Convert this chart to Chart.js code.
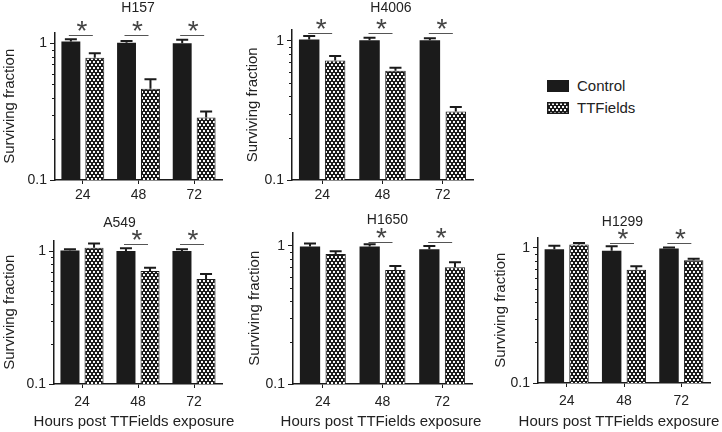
<!DOCTYPE html>
<html>
<head>
<meta charset="utf-8">
<script src="https://cdn.jsdelivr.net/npm/chart.js@4"></script>
<style>
  body { margin: 0; background: #fff; }
  #wrap { position: relative; width: 722px; height: 432px; overflow: hidden; font-family: "Liberation Sans", Arial, sans-serif; color: #222; }
  canvas.panel { position: absolute; }
  .leg { position: absolute; left: 547px; display: flex; align-items: center; font-size: 15px; }
  .leg canvas { margin-right: 8px; }
</style>
</head>
<body>
<div id="wrap">
  <div class="leg" style="top:77px"><canvas id="sw0" width="22" height="12"></canvas><span>Control</span></div>
  <div class="leg" style="top:99px"><canvas id="sw1" width="22" height="12"></canvas><span>TTFields</span></div>
</div>
<script>
const categories = ['24', '48', '72'];
const cellLines = ['H157', 'H4006', 'A549', 'H1650', 'H1299'];
const seriesNames = ['Control', 'TTFields'];
const controlMeans = [[1.03, 1.01, 1.00], [1.02, 1.01, 1.01], [1.01, 1.00, 1.00], [0.99, 0.99, 0.946], [0.98, 0.955, 0.99]];
const controlErrors = [[0.04, 0.03, 0.06], [0.06, 0.04, 0.03], [0.02, 0.05, 0.03], [0.05, 0.04, 0.054], [0.06, 0.075, 0.02]];
const ttfMeans = [[0.785, 0.466, 0.287], [0.72, 0.61, 0.31], [1.06, 0.708, 0.617], [0.875, 0.671, 0.701], [1.06, 0.691, 0.81]];
const ttfErrors = [[0.06, 0.08, 0.03], [0.056, 0.03, 0.024], [0.08, 0.04, 0.055], [0.04, 0.046, 0.06], [0.03, 0.04, 0.024]];
const significant = [[1, 1, 1], [1, 1, 1], [0, 1, 1], [0, 1, 1], [0, 1, 1]];
const yTickValues = [0.1, 0.2, 0.3, 0.4, 0.5, 0.6, 0.7, 0.8, 0.9, 1];
const yTickLabels = ['0.1', '1'];

// where each little chart sits (area = [left, right, top, bottom] inside its canvas)
const boxes = [
  { left: 0,   top: 0,   w: 240, h: 210, area: [55, 222, 32.5, 180], yMax: 1.2,  yPad: 1,    tickPad: 3, titleX: 138,   titleY: 8.5, sigY: 1.16,  xTitle: null },
  { left: 240, top: 0,   w: 240, h: 210, area: [52, 233, 29.7, 180], yMax: 1.2,  yPad: 3.5,  tickPad: 3, titleX: 151,   titleY: 8.5, sigY: 1.135, xTitle: null },
  { left: 0,   top: 210, w: 240, h: 222, area: [54, 222, 30.5, 174], yMax: 1.2,  yPad: 1,    tickPad: 6, titleX: 119.5, titleY: 13,  sigY: 1.13,  xTitle: 134 },
  { left: 240, top: 210, w: 250, h: 222, area: [53, 232, 22.6, 174], yMax: 1.25, yPad: 6,    tickPad: 6, titleX: 147.5, titleY: 10.5, sigY: 1.075, xTitle: 141 },
  { left: 480, top: 210, w: 242, h: 222, area: [58, 230, 27.3, 173], yMax: 1.2,  yPad: 11.5, tickPad: 6, titleX: 142.5, titleY: 12,  sigY: 1.08,  xTitle: 139 }
];

const FONT = '"Liberation Sans", Arial, sans-serif';
const INK = '#1b1b1b';
Chart.defaults.font.family = FONT;
Chart.defaults.color = '#222';

function dotPattern() {
  const t = document.createElement('canvas');
  t.width = 4; t.height = 6;
  const c = t.getContext('2d');
  c.fillStyle = INK; c.fillRect(0, 0, 4, 6);
  c.fillStyle = '#fafafa';
  c.fillRect(1, 1, 2, 2);
  c.fillRect(3, 4, 1, 2);
  c.fillRect(0, 4, 1, 2);
  return document.createElement('canvas').getContext('2d').createPattern(t, 'repeat');
}
const pattern = dotPattern();

// legend swatches
(function () {
  const a = document.getElementById('sw0').getContext('2d');
  a.fillStyle = INK; a.fillRect(0, 0, 22, 12);
  const b = document.getElementById('sw1').getContext('2d');
  b.fillStyle = pattern; b.fillRect(0, 0, 22, 12);
  b.strokeStyle = INK; b.lineWidth = 1.5; b.strokeRect(0.75, 0.75, 20.5, 10.5);
})();

const panelDecor = {
  id: 'panelDecor',
  afterDatasetsDraw(chart, args, opts) {
    const k = opts.index, b = boxes[k];
    const { ctx, chartArea } = chart;
    const y = chart.scales.y;
    ctx.save();

    // minor ticks on the log axis
    ctx.strokeStyle = INK; ctx.lineWidth = 1;
    yTickValues.forEach(v => {
      if (yTickLabels.includes(String(v))) return;
      const py = Math.round(y.getPixelForValue(v)) + 0.5;
      ctx.beginPath(); ctx.moveTo(chartArea.left - 3, py); ctx.lineTo(chartArea.left, py); ctx.stroke();
    });

    // error bars (upper half only)
    [[controlMeans, controlErrors], [ttfMeans, ttfErrors]].forEach(([means, errs], d) => {
      chart.getDatasetMeta(d).data.forEach((bar, i) => {
        const top = y.getPixelForValue(means[k][i] + errs[k][i]);
        const base = y.getPixelForValue(means[k][i]);
        ctx.strokeStyle = INK; ctx.lineWidth = 2;
        ctx.beginPath();
        ctx.moveTo(bar.x, base); ctx.lineTo(bar.x, top);
        ctx.moveTo(bar.x - 6, top); ctx.lineTo(bar.x + 6, top);
        ctx.stroke();
      });
    });

    // significance marks
    const sy = Math.round(y.getPixelForValue(b.sigY)) + 0.5;
    const xs = chart.scales.x;
    categories.forEach((c, i) => {
      if (!significant[k][i]) return;
      const cx = xs.getPixelForValue(i);
      ctx.strokeStyle = '#555'; ctx.lineWidth = 1;
      ctx.beginPath(); ctx.moveTo(cx - 14, sy); ctx.lineTo(cx + 10, sy); ctx.stroke();
      ctx.fillStyle = '#444';
      ctx.font = '28px ' + FONT;
      ctx.textAlign = 'center'; ctx.textBaseline = 'alphabetic';
      ctx.fillText('*', cx - 1, sy + 4);
    });

    // panel title and x title
    ctx.fillStyle = '#222';
    ctx.textAlign = 'center'; ctx.textBaseline = 'middle';
    ctx.font = '14px ' + FONT;
    ctx.fillText(cellLines[k], b.titleX, b.titleY);
    if (b.xTitle !== null) {
      ctx.font = '15px ' + FONT;
      ctx.fillText('Hours post TTFields exposure', b.xTitle, b.h - 10);
    }
    ctx.restore();
  }
};

boxes.forEach((b, k) => {
  const cv = document.createElement('canvas');
  cv.className = 'panel';
  cv.width = b.w; cv.height = b.h;
  cv.style.left = b.left + 'px'; cv.style.top = b.top + 'px';
  document.getElementById('wrap').appendChild(cv);

  new Chart(cv, {
    type: 'bar',
    plugins: [panelDecor],
    data: {
      labels: categories,
      datasets: [
        { label: seriesNames[0], data: controlMeans[k], backgroundColor: INK, borderWidth: 0 },
        { label: seriesNames[1], data: ttfMeans[k], backgroundColor: pattern, borderColor: INK, borderWidth: 1 }
      ]
    },
    options: {
      responsive: false,
      animation: false,
      events: [],
      layout: { padding: { left: 0, top: b.area[2], right: b.w - b.area[1], bottom: 0 } },
      datasets: { bar: { categoryPercentage: 0.86, barPercentage: 0.79 } },
      plugins: {
        legend: { display: false },
        tooltip: { enabled: false },
        panelDecor: { index: k }
      },
      scales: {
        x: {
          afterFit: s => { s.height = b.h - b.area[3]; },
          border: { color: INK, width: 1.5 },
          grid: { drawOnChartArea: false, offset: false, tickLength: 4, tickColor: INK },
          ticks: { font: { size: 14 }, color: '#222', padding: b.tickPad, maxRotation: 0 }
        },
        y: {
          type: 'logarithmic',
          min: 0.1,
          max: b.yMax,
          bounds: 'data',
          afterBuildTicks: s => { s.ticks = yTickValues.map(v => ({ value: v })); },
          afterFit: s => { s.width = b.area[0]; },
          border: { color: INK, width: 1.5 },
          grid: {
            drawOnChartArea: false,
            tickLength: 5,
            tickColor: c => (c.tick && yTickLabels.includes(String(c.tick.value))) ? INK : 'rgba(0,0,0,0)'
          },
          ticks: {
            autoSkip: false,
            font: { size: 14 },
            color: '#222',
            padding: 3,
            callback: v => yTickLabels.includes(String(v)) ? String(v) : ''
          },
          title: {
            display: true,
            text: 'Surviving fraction',
            font: { size: 15 },
            color: '#222',
            padding: { top: b.yPad, bottom: 0 }
          }
        }
      }
    }
  });
});
</script>
</body>
</html>
